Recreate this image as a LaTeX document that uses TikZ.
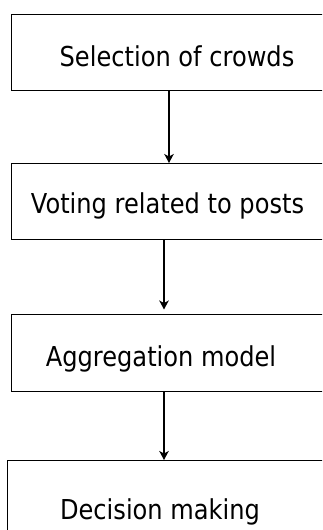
\documentclass[tikz,border=0pt]{standalone}
\usepackage{fontspec}
\setmainfont{DejaVu Sans}[FakeStretch=0.88]
\usetikzlibrary{arrows.meta}
\begin{document}
\begin{tikzpicture}[x=1pt,y=-1pt,
  box/.style={draw=black,line width=1.25pt,rectangle,anchor=north west,inner sep=0pt,minimum width=340pt},
  lbl/.style={anchor=base,inner sep=0pt,font=\fontsize{27.4pt}{32pt}\selectfont,text=black},
  arr/.style={draw=black,line width=1.25pt,-{Stealth[length=9pt,width=9.5pt,inset=2.5pt]}}]
\useasboundingbox (0,0) rectangle (322,530);
\clip (0,0) rectangle (322,530);
\node[box,minimum height=76pt] (b1) at (11,14) {};
\node[box,minimum height=76pt] (b2) at (11,163) {};
\node[box,minimum height=77pt] (b3) at (10.5,314) {};
\node[box,minimum height=100pt] (b4) at (7,460) {};
\node[lbl] (t1) at (177,66) {Selection of crowds};
\node[lbl] (t2) at (167.5,213) {Voting related to posts};
\node[lbl] (t3) at (161,366) {Aggregation model};
\node[lbl] (t4) at (160,519) {Decision making};
\draw[arr] (169,0 |- b1.south) -- (169,0 |- b2.north);
\draw[arr,shorten >=4.5pt] (164,0 |- b2.south) -- (164,0 |- b3.north);
\draw[arr] (164,0 |- b3.south) -- (164,0 |- b4.north);
\end{tikzpicture}
\end{document}
